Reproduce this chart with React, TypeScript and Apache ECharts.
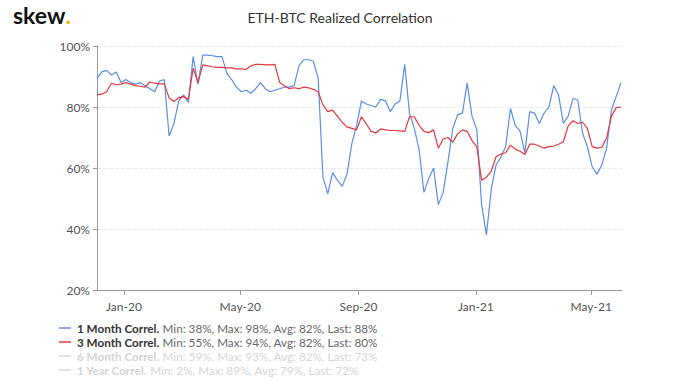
import React, { useEffect, useRef } from "react";
import * as echarts from "echarts";

const START = Date.UTC(2019, 11, 4);
const STEP_DAYS = 5;
const X_MIN = Date.UTC(2019, 11, 4);
const X_MAX = Date.UTC(2021, 5, 2);

const tickDates = [
  Date.UTC(2020, 0, 1),
  Date.UTC(2020, 4, 1),
  Date.UTC(2020, 8, 1),
  Date.UTC(2021, 0, 1),
  Date.UTC(2021, 4, 1),
];

const oneMonth = [
  89.4, 91.5, 92, 90.5, 91.5, 88, 89, 88, 87.5, 88,
  87, 86, 85, 88.5, 89, 70.5, 74.5, 82, 84, 81.5,
  96.5, 87.5, 97, 97, 96.8, 96.5, 96.5, 91, 89, 86.5,
  85, 85.5, 84.5, 86, 88, 86, 85, 85.5, 86, 86.5,
  86.5, 87, 93.5, 95.5, 95.5, 95, 89.5, 57, 51.5, 58.5,
  56, 54, 58, 68, 74, 82, 81, 80.5, 80, 82.5,
  82, 78.5, 81, 82, 94, 78, 73, 66, 52, 56.5,
  60, 48, 52, 62, 73, 77.4, 78, 87.8, 77, 72.5,
  48, 38, 53, 61, 63.5, 67, 79.5, 74, 72, 65,
  78.5, 78, 74.6, 78, 80, 87, 84, 74.6, 77, 82.8,
  82.3, 71.4, 67, 60.4, 58, 61, 66.5, 79, 83.5, 88,
];

const threeMonth = [
  84, 84.2, 85, 87.8, 87.3, 87.5, 88, 87.5, 87, 86.8,
  86.5, 88.2, 87.8, 87.6, 87.6, 83, 81.8, 83, 83.4, 82.5,
  92.7, 88, 93.8, 93.5, 93.2, 93, 93, 92.8, 92.8, 92.5,
  92.5, 92.3, 93.5, 94, 94, 93.8, 93.8, 94, 88, 87,
  86, 86.3, 86, 86.5, 86.3, 85.8, 85, 80.7, 78.5, 79,
  77, 75, 73.5, 73, 72.5, 76.8, 74.5, 72, 71.5, 72.8,
  72.5, 72.3, 72.3, 72.2, 72, 76.8, 76.8, 74, 72, 71.6,
  72.5, 66.5, 69.5, 70, 68.5, 71.2, 72.5, 72, 69, 67,
  56, 57, 59, 63.7, 64.6, 65, 67.5, 66.2, 65.5, 64.4,
  67.8, 67.8, 67.2, 66.5, 67, 67.2, 67.8, 68.6, 73.8, 75.5,
  74.6, 75, 73, 67, 66.5, 66.8, 69.8, 77, 79.8, 80,
];

const legendNames = ["1 Month Correl.", "3 Month Correl.", "6 Month Correl.", "1 Year Correl."];
const legendMin = [38, 55, 59, 2];
const legendMax = [98, 94, 93, 89];
const legendAvg = [82, 82, 82, 79];
const legendLast = [88, 80, 73, 72];
const legendActive = [true, true, false, false];

const BLUE = "#5b8ee6";
const RED = "#e2373d";
const MONTHS = ["Jan", "Feb", "Mar", "Apr", "May", "Jun", "Jul", "Aug", "Sep", "Oct", "Nov", "Dec"];
const FONT = "Lato, 'Open Sans', sans-serif";

function toPairs(values: number[]) {
  return values.map((v, i) => [START + i * STEP_DAYS * 86400000, v]);
}

export default function App() {
  const ref = useRef<HTMLDivElement>(null);
  useEffect(() => {
    if (!ref.current) return;
    const chart = echarts.init(ref.current, null, { renderer: "svg" });
    const legendColors = [BLUE, RED, "#d9d9d9", "#d9d9d9"];
    const graphics: any[] = [
      {
        type: "text",
        left: 13,
        top: 3,
        style: {
          text: "{a|skew}{d|.}",
          rich: {
            a: { fontSize: 23, fontWeight: "bold", fill: "#111", fontFamily: FONT },
            d: { fontSize: 23, fontWeight: "bold", fill: "#f2b705", fontFamily: FONT },
          },
        },
      },
    ];
    legendNames.forEach((name, i) => {
      const y = 328 + i * 14;
      const active = legendActive[i];
      graphics.push({
        type: "line",
        shape: { x1: 59, y1: y, x2: 71, y2: y },
        style: { stroke: legendColors[i], lineWidth: 1.5 },
      });
      graphics.push({
        type: "text",
        x: 77,
        y: y,
        style: {
          text:
            "{b|" + name + "} {s|Min: " + legendMin[i] + "%, Max: " + legendMax[i] +
            "%, Avg: " + legendAvg[i] + "%, Last: " + legendLast[i] + "%}",
          verticalAlign: "middle",
          rich: {
            b: { fontSize: 11.7, fontWeight: "bold", fill: active ? "#333" : "#d4d4d4", fontFamily: FONT },
            s: { fontSize: 11.7, fill: active ? "#666" : "#d4d4d4", fontFamily: FONT },
          },
        },
      });
    });

    chart.setOption({
      animation: false,
      title: {
        text: "ETH-BTC Realized Correlation",
        left: "center",
        top: 5,
        textStyle: { fontSize: 14, fontWeight: "normal", color: "#333", fontFamily: FONT },
      },
      grid: { left: 97, right: 58, top: 46, bottom: 90 },
      xAxis: {
        type: "value",
        min: X_MIN,
        max: X_MAX,
        axisLine: { lineStyle: { color: "#999" } },
        axisTick: { show: true, customValues: tickDates, length: 5, lineStyle: { color: "#999" } },
        axisLabel: {
          customValues: tickDates,
          color: "#555",
          fontSize: 12,
          fontFamily: FONT,
          margin: 10,
          formatter: (v: number) => {
            const d = new Date(v);
            return MONTHS[d.getUTCMonth()] + "-" + String(d.getUTCFullYear()).slice(2);
          },
        },
        splitLine: { show: false },
      },
      yAxis: {
        type: "value",
        min: 20,
        max: 100,
        interval: 20,
        axisLine: { show: true, lineStyle: { color: "#999" } },
        axisTick: { show: true, length: 4, lineStyle: { color: "#999" } },
        axisLabel: { formatter: "{value}%", color: "#555", fontSize: 12, fontFamily: FONT, margin: 7 },
        splitLine: { show: true, lineStyle: { color: "#e8e8e8", type: "dashed" } },
      },
      series: [
        {
          name: legendNames[0],
          type: "line",
          data: toPairs(oneMonth),
          showSymbol: false,
          lineStyle: { color: BLUE, width: 1.2 },
          itemStyle: { color: BLUE },
        },
        {
          name: legendNames[1],
          type: "line",
          data: toPairs(threeMonth),
          showSymbol: false,
          lineStyle: { color: RED, width: 1.2 },
          itemStyle: { color: RED },
        },
      ],
      graphic: graphics,
    });
    return () => chart.dispose();
  }, []);
  return (
    <div
      ref={ref}
      style={{ position: "absolute", left: 0, top: 0, width: 680, height: 380 }}
    />
  );
}
